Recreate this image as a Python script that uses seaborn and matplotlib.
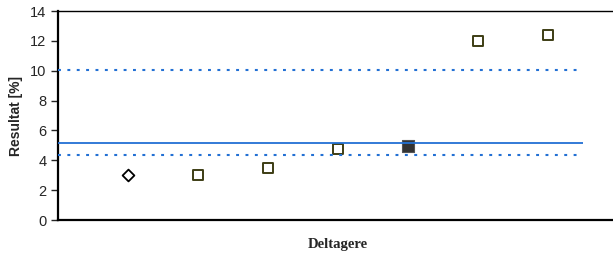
import numpy as np
import pandas as pd
import seaborn as sns
import matplotlib.pyplot as plt

# ---------- DATA ----------
deltager = [1, 2, 3, 4, 5, 6, 7]
resultat = [3.0, 3.0, 3.5, 4.73, 4.96, 12.0, 12.4]
markør = ["diamant", "åben", "åben", "åben", "fyldt", "åben", "åben"]

middel = 5.14
grænse_nedre = 4.35
grænse_øvre = 10.05
linje_slut = 7.5

df = pd.DataFrame({"Deltager": deltager, "Resultat": resultat, "Type": markør})

# ---------- PLOT ----------
sns.set_style("white")
plt.rcParams["font.family"] = ["Liberation Sans", "DejaVu Sans"]

fig = plt.figure(figsize=(6.13, 2.54), dpi=100)
ax = fig.add_axes([57.7 / 613, 34 / 254, 560 / 613, 209 / 254])

blaa = "#2270d4"
ax.hlines(middel, 0, linje_slut, color=blaa, lw=1.3, zorder=4)
for y in (grænse_nedre, grænse_øvre):
    ax.hlines(y, 0, linje_slut, color=blaa, lw=1.5, linestyles=(0, (1.4, 3.1)), zorder=4)

sns.scatterplot(data=df[df.Type == "diamant"], x="Deltager", y="Resultat", marker="D",
                s=36, facecolor="white", edgecolor="black", linewidth=1.3, ax=ax, zorder=3)
sns.scatterplot(data=df[df.Type == "åben"], x="Deltager", y="Resultat", marker="s",
                s=52, facecolor="white", edgecolor="#3d3d14", linewidth=1.4, ax=ax, zorder=3)
sns.scatterplot(data=df[df.Type == "fyldt"], x="Deltager", y="Resultat", marker="s",
                s=85, facecolor="#333333", edgecolor="#555555", linewidth=0.8, ax=ax, zorder=3)

ax.set_xlim(0, 8)
ax.set_ylim(0, 14)
ax.set_yticks(range(0, 15, 2))
ax.set_xticks([])

ax.spines["right"].set_visible(False)
ax.spines["left"].set_linewidth(1.6)
ax.spines["bottom"].set_linewidth(1.6)
ax.spines["top"].set_linewidth(1.0)
for s in ax.spines.values():
    s.set_color("black")

ax.tick_params(axis="y", direction="out", length=5, width=1, left=True, labelsize=10.5, pad=3)

ax.set_ylabel("Resultat [%]", fontsize=10, fontweight="bold", family=["Liberation Sans", "DejaVu Sans"], labelpad=5)
ax.set_xlabel("Deltagere", fontsize=10.5, fontweight="bold", family="Liberation Serif", labelpad=13)

fig.savefig("out.png", dpi=100)
